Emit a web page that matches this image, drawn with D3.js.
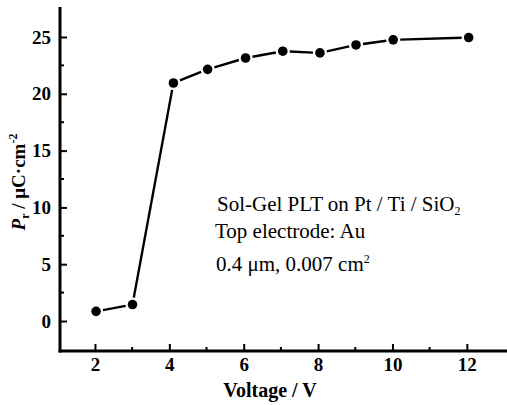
<!DOCTYPE html>
<html><head><meta charset="utf-8">
<script src="https://cdn.jsdelivr.net/npm/d3@7"></script>
<style>body{margin:0;background:#fff}svg{display:block}</style>
</head><body>
<svg id="c" width="507" height="405"></svg>
<script>
const voltage = [2.03, 3.01, 4.11, 5.03, 6.05, 7.05, 8.05, 9.02, 10.02, 12.05];
const pr = [0.85, 1.45, 20.95, 22.15, 23.15, 23.75, 23.6, 24.3, 24.75, 24.95];
const xTicks = [2, 4, 6, 8, 10, 12];
const xMinor = [3, 5, 7, 9, 11];
const yTicks = [0, 5, 10, 15, 20, 25];
const yMinor = [2.5, 7.5, 12.5, 17.5, 22.5];
const annotation = ["Sol-Gel PLT on Pt / Ti / SiO", "Top electrode: Au", "0.4 μm, 0.007 cm"];

const svg = d3.select("#c");
const L = 60, R = 507, T = 7, B = 351;
const x = d3.scaleLinear().domain([1.06, 13.08]).range([L, R]);
const y = d3.scaleLinear().domain([-2.64, 27.64]).range([B, T]);
const font = "'Liberation Serif','Times New Roman',serif";

const gx = svg.append("g").attr("transform", `translate(0,${B})`)
  .call(d3.axisBottom(x).tickValues(xTicks).tickSize(-7).tickPadding(7).tickSizeOuter(0));
gx.append("g").selectAll("line").data(xMinor).join("line")
  .attr("x1", d => x(d)).attr("x2", d => x(d)).attr("y1", 0).attr("y2", -4)
  .attr("stroke", "#000").attr("stroke-width", 2);
const gy = svg.append("g").attr("transform", `translate(${L},0)`)
  .call(d3.axisLeft(y).tickValues(yTicks).tickSize(-7).tickPadding(9).tickSizeOuter(0));
gy.append("g").selectAll("line").data(yMinor).join("line")
  .attr("y1", d => y(d)).attr("y2", d => y(d)).attr("x1", 0).attr("x2", 4)
  .attr("stroke", "#000").attr("stroke-width", 2);
[gx, gy].forEach(g => {
  g.select(".domain").attr("stroke-width", 3).attr("stroke", "#000");
  g.selectAll(".tick line").attr("stroke-width", 2);
  g.selectAll(".tick text").attr("font-family", font).attr("font-weight", "bold")
    .attr("font-size", 19).attr("fill", "#000");
});
gy.select(".domain").attr("d", `M0,${T}V${B + 1.5}`);
gx.select(".domain").attr("d", `M${L - 1.5},0H${R}`);

const pts = voltage.map((v, i) => [x(v), y(pr[i])]);
const gap = 7;
for (let i = 0; i < pts.length - 1; i++) {
  const [x1, y1] = pts[i], [x2, y2] = pts[i + 1];
  const dx = x2 - x1, dy = y2 - y1, len = Math.hypot(dx, dy);
  const ux = dx / len, uy = dy / len;
  svg.append("line")
    .attr("x1", x1 + ux * gap).attr("y1", y1 + uy * gap)
    .attr("x2", x2 - ux * gap).attr("y2", y2 - uy * gap)
    .attr("stroke", "#000").attr("stroke-width", 2.4);
}
svg.append("g").selectAll("circle").data(pts).join("circle")
  .attr("cx", d => d[0]).attr("cy", d => d[1]).attr("r", 4.8).attr("fill", "#000");

const ann = svg.append("g").attr("font-family", font).attr("font-size", 21).attr("fill", "#000");
const t1 = ann.append("text").attr("x", 217).attr("y", 211).text(annotation[0]);
t1.append("tspan").attr("font-size", 12).attr("dy", 4).text("2");
ann.append("text").attr("x", 215).attr("y", 238).text(annotation[1]);
const t3 = ann.append("text").attr("x", 216).attr("y", 271).text(annotation[2]);
t3.append("tspan").attr("font-size", 12).attr("dy", -8).text("2");

svg.append("text").attr("x", 270).attr("y", 397).attr("text-anchor", "middle")
  .attr("font-family", font).attr("font-weight", "bold").attr("font-size", 20).text("Voltage / V");
const yt = svg.append("text").attr("transform", "translate(25,182) rotate(-90)")
  .attr("text-anchor", "middle").attr("font-family", font).attr("font-weight", "bold").attr("font-size", 19);
yt.append("tspan").attr("font-style", "italic").text("P");
yt.append("tspan").attr("font-size", 12).attr("dy", 4).text("r");
yt.append("tspan").attr("dy", -4).text(" / μC·cm");
yt.append("tspan").attr("font-size", 12).attr("dy", -8).text("-2");
</script>
</body></html>
